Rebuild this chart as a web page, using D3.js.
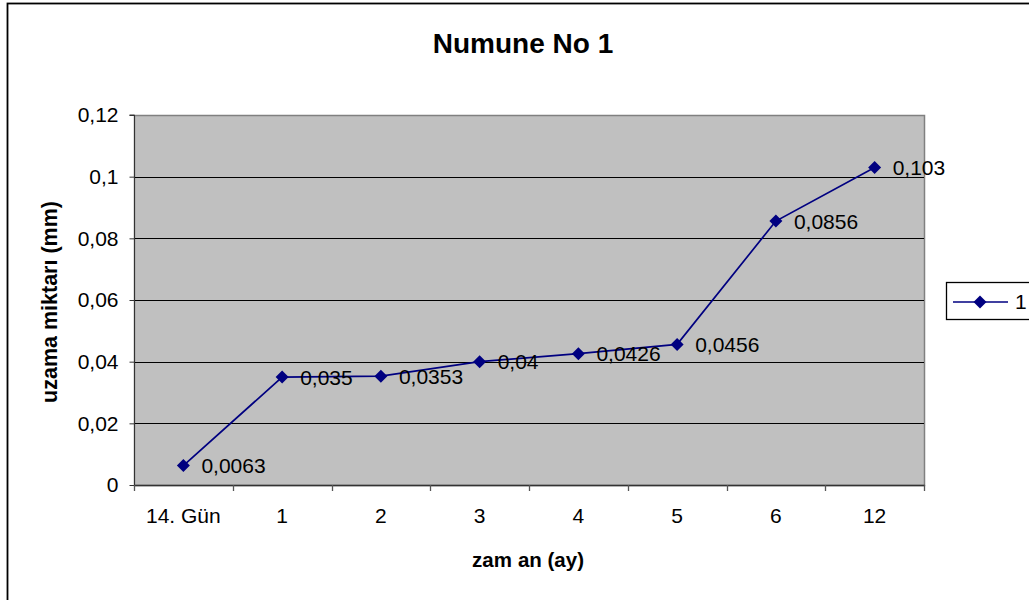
<!DOCTYPE html>
<html>
<head>
<meta charset="utf-8">
<script src="https://cdn.jsdelivr.net/npm/d3@7"></script>
<style>
  body { margin: 0; background: #fff; }
  text { font-family: "Liberation Sans", Arial, sans-serif; }
</style>
</head>
<body>
<svg id="chart" width="1029" height="600"></svg>
<script>
'use strict';

// chart data
const categories = ["14. Gün", "1", "2", "3", "4", "5", "6", "12"];
const values = [0.0063, 0.035, 0.0353, 0.04, 0.0426, 0.0456, 0.0856, 0.103];
const valueLabels = ["0,0063", "0,035", "0,0353", "0,04", "0,0426", "0,0456", "0,0856", "0,103"];
const yTicks = [0, 0.02, 0.04, 0.06, 0.08, 0.1, 0.12];
const yTickLabels = ["0", "0,02", "0,04", "0,06", "0,08", "0,1", "0,12"];
const seriesName = "1";

const svg = d3.select("#chart");
const plot = { left: 134, top: 115, right: 924, bottom: 485 };
const navy = "#000080";
const fs = 21;

// outer frame
svg.append("rect")
    .attr("x", 7.5).attr("y", 3.5)
    .attr("width", 1040).attr("height", 620)
    .attr("fill", "#fff").attr("stroke", "#000").attr("stroke-width", 1.8);

var x = d3.scaleBand()
    .domain(categories)
    .range([plot.left, plot.right]);

var y = d3.scaleLinear()
    .domain([0, 0.12])
    .range([plot.bottom, plot.top]);

// plot background
svg.append("rect")
    .attr("x", plot.left + 0.5).attr("y", plot.top + 0.5)
    .attr("width", plot.right - plot.left).attr("height", plot.bottom - plot.top)
    .attr("fill", "#c0c0c0")
    .attr("stroke", "#808080").attr("stroke-width", 1.5);

// gridlines
svg.append("g").selectAll("line")
    .data(yTicks.filter(d => d > 0 && d < 0.12))
    .enter().append("line")
    .attr("x1", plot.left).attr("x2", plot.right)
    .attr("y1", d => Math.round(y(d)) + 0.5).attr("y2", d => Math.round(y(d)) + 0.5)
    .attr("stroke", "#000").attr("stroke-width", 1);

// y axis
var yAxis = d3.axisLeft(y)
    .tickValues(yTicks)
    .tickFormat((d, i) => yTickLabels[i])
    .tickSize(5)
    .tickPadding(11);

var gy = svg.append("g")
    .attr("transform", "translate(" + (plot.left + 0.5) + ",0)")
    .call(yAxis);
gy.select(".domain").attr("stroke", "#333").attr("d", "M-5," + plot.top + "H0V" + plot.bottom);
gy.selectAll(".tick line").attr("stroke", "#333");
gy.selectAll(".tick text").attr("font-size", fs).attr("fill", "#000")
    .attr("font-family", "Liberation Sans, Arial, sans-serif");

// x axis: ticks at band boundaries
var gx = svg.append("g");
gx.append("line")
    .attr("x1", plot.left).attr("x2", plot.right + 1)
    .attr("y1", plot.bottom + 0.5).attr("y2", plot.bottom + 0.5)
    .attr("stroke", "#333").attr("stroke-width", 1.5);
var bounds = categories.map(c => x(c)).concat([x.range()[1]]);
gx.selectAll("line.tk")
    .data(bounds)
    .enter().append("line")
    .attr("class", "tk")
    .attr("x1", d => Math.round(d) + 0.5).attr("x2", d => Math.round(d) + 0.5)
    .attr("y1", plot.bottom).attr("y2", plot.bottom + 6)
    .attr("stroke", "#555").attr("stroke-width", 1.3);
gx.selectAll("text")
    .data(categories)
    .enter().append("text")
    .attr("x", d => x(d) + x.bandwidth() / 2)
    .attr("y", plot.bottom + 38)
    .attr("text-anchor", "middle")
    .attr("font-size", fs)
    .text(d => d);

// line
var cx = (d, i) => x(categories[i]) + x.bandwidth() / 2;
var line = d3.line()
    .x(cx)
    .y(d => y(d));

svg.append("path")
    .datum(values)
    .attr("d", line)
    .attr("fill", "none")
    .attr("stroke", navy)
    .attr("stroke-width", 1.7);

var diamond = "M0,-6.5L6.5,0L0,6.5L-6.5,0Z";

svg.append("g").selectAll("path")
    .data(values)
    .enter().append("path")
    .attr("d", diamond)
    .attr("transform", (d, i) => "translate(" + cx(d, i) + "," + y(d) + ")")
    .attr("fill", navy);

// data labels
svg.append("g").selectAll("text")
    .data(values)
    .enter().append("text")
    .attr("x", (d, i) => cx(d, i) + 18)
    .attr("y", d => y(d) + 7.5)
    .attr("font-size", fs)
    .text((d, i) => valueLabels[i]);

// title and axis titles
svg.append("text")
    .attr("x", 523).attr("y", 53)
    .attr("text-anchor", "middle")
    .attr("font-size", 28).attr("font-weight", "bold")
    .text("Numune No 1");

svg.append("text")
    .attr("transform", "translate(57,302) rotate(-90)")
    .attr("text-anchor", "middle")
    .attr("font-size", 21.5).attr("font-weight", "bold")
    .text("uzama miktarı (mm)");

var xl = svg.append("text")
    .attr("x", 528).attr("y", 567)
    .attr("text-anchor", "middle")
    .attr("font-size", 20.5).attr("font-weight", "bold");
xl.append("tspan").text("zam");
xl.append("tspan").attr("dx", 6).text("an (ay)");

// legend
var lg = svg.append("g");
lg.append("rect")
    .attr("x", 946.5).attr("y", 282.5)
    .attr("width", 100).attr("height", 37)
    .attr("fill", "#fff").attr("stroke", "#000").attr("stroke-width", 1.3);
lg.append("line")
    .attr("x1", 953).attr("x2", 1008)
    .attr("y1", 302).attr("y2", 302)
    .attr("stroke", navy).attr("stroke-width", 1.7);
lg.append("path")
    .attr("d", diamond)
    .attr("transform", "translate(980,302)")
    .attr("fill", navy);
lg.append("text")
    .attr("x", 1015).attr("y", 309)
    .attr("font-size", fs)
    .text(seriesName);
</script>
</body>
</html>
